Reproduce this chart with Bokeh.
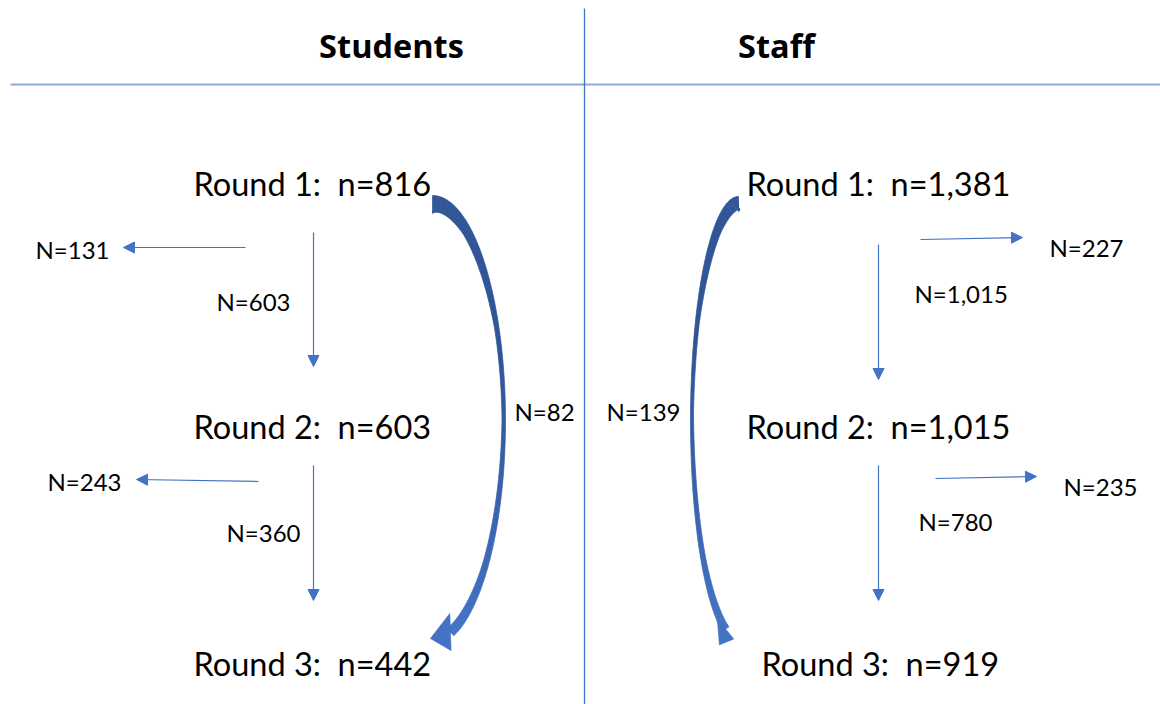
import numpy as np
from bokeh.plotting import figure
from bokeh.models import Range1d, Arrow, NormalHead, ColumnDataSource
from bokeh.core.properties import value
from bokeh.embed import file_html
from bokeh.resources import INLINE

# ---------------- data ----------------
groups = ["Students", "Staff"]
round_names = ["Round 1", "Round 2", "Round 3"]
students_n = [816, 603, 442]
staff_n = [1381, 1015, 919]
students_dropped = [131, 243]
staff_dropped = [227, 235]
students_retained = [603, 360]
staff_retained = [1015, 780]
students_returned = 82
staff_returned = 139

# ---------------- layout (page pixel positions) ----------------
W, H = 1160, 704
title_x = [391, 776]
title_y = 45
round_y = [183, 426, 663]
stu_round_x = [193, 193, 193]
stf_round_x = [746, 746, 761]
stu_drop_lbl = ([35, 47], [249, 481])
stf_drop_lbl = ([1049, 1063], [247, 486])
stu_ret_lbl = ([216, 226], [301, 532])
stf_ret_lbl = ([914, 918], [293, 521])
stu_back_lbl = (514, 411)
stf_back_lbl = (606, 411)
stu_drop_arrow = dict(x0=[245, 258], y0=[247, 481], x1=[123, 136], y1=[247, 479])
stf_drop_arrow = dict(x0=[920, 935], y0=[239, 478], x1=[1022, 1036], y1=[237, 476])
stu_ret_arrow = dict(x0=[313, 313], y0=[232, 465], x1=[313, 313], y1=[366, 600])
stf_ret_arrow = dict(x0=[878, 878], y0=[244, 465], x1=[878, 878], y1=[379, 600])

DARK = "#2F5597"
MID = "#4472C4"
LIGHT = "#8FAADC"
FONT = "Lato"
SP = "\u00a0"

p = figure(width=W, height=H, x_range=Range1d(0, W), y_range=Range1d(H, 0),
           output_backend="svg", toolbar_location=None, min_border=0,
           x_axis_type=None, y_axis_type=None)
p.grid.visible = False
p.outline_line_color = None
p.background_fill_color = "white"

# divider lines
p.segment(x0=[10], y0=[84], x1=[1170], y1=[84], line_color=LIGHT, line_width=2)
p.segment(x0=[584], y0=[8], x1=[584], y1=[720], line_color=MID, line_width=1.3)

# titles
p.text(x=title_x, y=[title_y, title_y], text=groups, text_align="center", text_baseline="middle",
       text_font=value("Open Sans"), text_font_style="bold", text_font_size="32.5px", text_color="black")

def rlabel(n):
    return [f"{r}:{SP} n={v:,}" for r, v in zip(round_names, n)]

p.text(x=stu_round_x, y=round_y, text=rlabel(students_n), text_align="left", text_baseline="middle",
       text_font=value(FONT), text_font_size="32.5px", text_color="black")
p.text(x=stf_round_x, y=round_y, text=rlabel(staff_n), text_align="left", text_baseline="middle",
       text_font=value(FONT), text_font_size="32.5px", text_color="black")

def nl(vals):
    return [f"N={v:,}" for v in vals]

small = dict(text_align="left", text_baseline="middle", text_font=value(FONT),
             text_font_size="24px", text_color="black")
p.text(x=stu_drop_lbl[0], y=stu_drop_lbl[1], text=nl(students_dropped), **small)
p.text(x=stf_drop_lbl[0], y=stf_drop_lbl[1], text=nl(staff_dropped), **small)
p.text(x=stu_ret_lbl[0], y=stu_ret_lbl[1], text=nl(students_retained), **small)
p.text(x=stf_ret_lbl[0], y=stf_ret_lbl[1], text=nl(staff_retained), **small)
p.text(x=[stu_back_lbl[0], stf_back_lbl[0]], y=[stu_back_lbl[1], stf_back_lbl[1]],
       text=nl([students_returned, staff_returned]), **small)

# thin arrows
for d in (stu_drop_arrow, stf_drop_arrow, stu_ret_arrow, stf_ret_arrow):
    src = ColumnDataSource(d)
    p.add_layout(Arrow(end=NormalHead(size=11, fill_color=MID, line_color=MID, line_width=1),
                       x_start="x0", y_start="y0", x_end="x1", y_end="y1", source=src,
                       line_color=MID, line_width=1.2))

# curved block arrows
def hex2rgb(h):
    h = h.lstrip("#")
    return np.array([int(h[i:i + 2], 16) for i in (0, 2, 4)], dtype=float)

def mix(c1, c2, f):
    c = hex2rgb(c1) * (1 - f) + hex2rgb(c2) * f
    return "#%02x%02x%02x" % tuple(int(round(v)) for v in c)

def curved_arrow(cx, cy, a, b, side, t_end_deg, widths, head_base_deg, head_half, tip_deg, tip_len, n=90):
    t = np.radians(np.linspace(-90, t_end_deg, n))
    ox = cx + side * a * np.cos(t)
    oy = cy + b * np.sin(t)
    nx = (ox - cx) / a ** 2
    ny = (oy - cy) / b ** 2
    nn = np.hypot(nx, ny)
    nx, ny = nx / nn, ny / nn
    s = np.linspace(0, 1, n)
    w = np.interp(s, [0, 0.2, 0.4, 0.55, 0.8, 1.0], widths)
    ix = ox - nx * w
    iy = oy - ny * w
    xs, ys, cols = [], [], []
    for i in range(n - 1):
        xs.append([ox[i], ox[i + 1], ix[i + 1], ix[i]])
        ys.append([oy[i], oy[i + 1], iy[i + 1], iy[i]])
        f = np.clip((s[i] - 0.45) / 0.5, 0, 1)
        cols.append(mix(DARK, MID, f))
    bx = (ox[-1] + ix[-1]) / 2
    by = (oy[-1] + iy[-1]) / 2
    hb = np.radians(head_base_deg)
    tp = np.radians(tip_deg)
    xs.append([bx - head_half * np.cos(hb), bx + tip_len * np.cos(tp), bx + head_half * np.cos(hb)])
    ys.append([by - head_half * np.sin(hb), by + tip_len * np.sin(tp), by + head_half * np.sin(hb)])
    cols.append(MID)
    p.patches(xs=xs, ys=ys, fill_color=cols, line_color=cols, line_width=0.7)

curved_arrow(432, 420, 73, 225, +1, 73, [18, 9, 4.5, 3.5, 6, 10], 88, 18.5, 162, 21)
curved_arrow(738, 420, 48, 224, -1, 70, [15, 8, 4, 3, 5, 8], 51, 13, 111, 17)

open("out.html", "w").write(file_html(p, INLINE))
